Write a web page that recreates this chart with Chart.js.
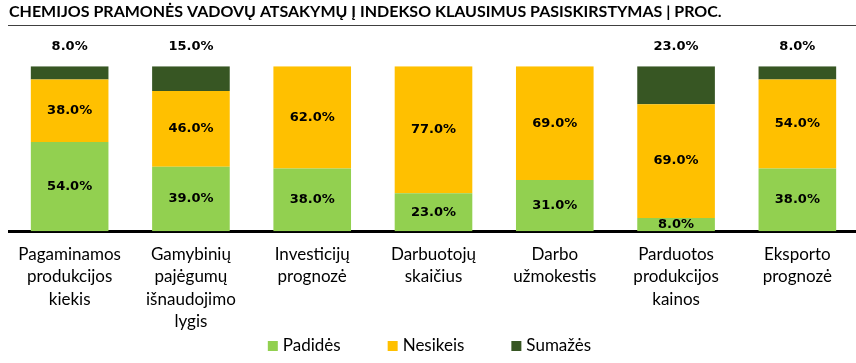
<!DOCTYPE html>
<html><head><meta charset="utf-8">
<script src="https://cdn.jsdelivr.net/npm/chart.js@4.4.0/dist/chart.umd.min.js"></script>
<style>html,body{margin:0;padding:0;overflow:hidden;background:#fff;width:856px;height:363px}#wrap{width:858px;height:363px}</style>
</head><body><div id="wrap"><canvas id="c" width="858" height="363"></canvas></div>
<script>
const titleText = 'CHEMIJOS PRAMONĖS VADOVŲ ATSAKYMŲ Į INDEKSO KLAUSIMUS PASISKIRSTYMAS | PROC.';
const categories = [
  ['Pagaminamos','produkcijos','kiekis'],
  ['Gamybinių','pajėgumų','išnaudojimo','lygis'],
  ['Investicijų','prognozė'],
  ['Darbuotojų','skaičius'],
  ['Darbo','užmokestis'],
  ['Parduotos','produkcijos','kainos'],
  ['Eksporto','prognozė']
];
const seriesNames = ['Padidės','Nesikeis','Sumažės'];
const padides  = [54, 39, 38, 23, 31, 8, 38];
const nesikeis = [38, 46, 62, 77, 69, 69, 54];
const sumazes  = [8, 15, 0, 0, 0, 23, 8];
const colors = ['#92D050','#FFC000','#375623'];

const labelPlugin = {
  id: 'vals',
  afterDatasetsDraw(chart) {
    const ctx = chart.ctx;
    ctx.save();
    ctx.font = 'bold 13px "DejaVu Sans"';
    ctx.fillStyle = '#000';
    ctx.textAlign = 'center';
    ctx.textBaseline = 'middle';
    chart.data.datasets.forEach((ds, di) => {
      const meta = chart.getDatasetMeta(di);
      meta.data.forEach((bar, i) => {
        const v = ds.data[i];
        if (!v) return;
        let y;
        if (di === 2) y = bar.y - 20;
        else y = (bar.y + bar.base) / 2;
        ctx.fillText(v.toFixed(1) + '%', bar.x, y);
      });
    });
    ctx.restore();
  },
  afterDraw(chart) {
    const ctx = chart.ctx;
    ctx.save();
    // rule under title
    ctx.strokeStyle = '#404040';
    ctx.lineWidth = 1;
    ctx.beginPath();
    ctx.moveTo(8, 25.5);
    ctx.lineTo(856, 25.5);
    ctx.stroke();
    // legend
    ctx.font = '17px Lato';
    ctx.textBaseline = 'middle';
    ctx.textAlign = 'left';
    const box = 10, gapText = 5, gap = 47, cy = 346;
    const ds = chart.data.datasets;
    const widths = ds.map(d => box + gapText + ctx.measureText(d.label).width);
    const total = widths.reduce((a, b) => a + b, 0) + gap * (ds.length - 1);
    let x = 429.5 - total / 2;
    ds.forEach((d, i) => {
      ctx.fillStyle = d.backgroundColor;
      ctx.fillRect(x, cy - box / 2, box, box);
      ctx.fillStyle = '#000';
      ctx.fillText(d.label, x + box + gapText, cy);
      x += widths[i] + gap;
    });
    ctx.restore();
  }
};

new Chart(document.getElementById('c'), {
  type: 'bar',
  data: {
    labels: categories,
    datasets: [
      { label: seriesNames[0], data: padides, backgroundColor: colors[0] },
      { label: seriesNames[1], data: nesikeis, backgroundColor: colors[1] },
      { label: seriesNames[2], data: sumazes, backgroundColor: colors[2] }
    ]
  },
  options: {
    responsive: false,
    animation: false,
    devicePixelRatio: 1,
    layout: { padding: { left: 9, right: 0, top: 0, bottom: 18 } },
    datasets: { bar: { categoryPercentage: 0.64, barPercentage: 1.0 } },
    scales: {
      x: {
        stacked: true,
        z: 1,
        grid: { display: false, drawTicks: false },
        border: { display: true, color: '#000', width: 3 },
        ticks: { color: '#000', font: { family: 'Lato', size: 17, lineHeight: 1.32 }, padding: 12, maxRotation: 0, autoSkip: false }
      },
      y: {
        stacked: true, display: false, min: 0, max: 100
      }
    },
    plugins: {
      title: {
        display: true, text: titleText, align: 'start', color: '#000',
        font: { family: 'Lato', size: 16, weight: 'bold' },
        padding: { top: 2, bottom: 45 }
      },
      legend: { display: false },
      tooltip: { enabled: false }
    }
  },
  plugins: [labelPlugin]
});
</script></body></html>
